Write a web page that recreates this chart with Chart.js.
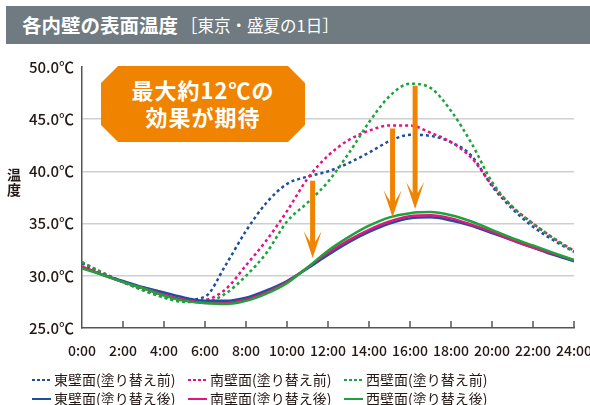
<!DOCTYPE html>
<html>
<head>
<meta charset="utf-8">
<script src="https://cdn.jsdelivr.net/npm/chart.js@4.4.1/dist/chart.umd.min.js"></script>
<style>
  body { margin: 0; background: #fff; font-family: "Noto Sans CJK JP", sans-serif; }
  #wrap { position: relative; width: 590px; height: 405px; overflow: hidden; }
  #chart { position: absolute; left: 0; top: 0; }
  #title { position: absolute; left: 6px; top: 6px; width: 584px; height: 38px; background: #6f7b81; color: #fff; }
  #title .main { position: absolute; left: 16px; top: 4px; font-size: 19.5px; font-weight: bold; }
  #title .sub { position: absolute; left: 175px; top: 7px; font-size: 16.5px; }
  #callout { position: absolute; left: 101px; top: 66px; width: 204px; height: 76px; background: #f08300; color: #fff;
    clip-path: polygon(17px 0, 187px 0, 204px 17px, 204px 59px, 187px 76px, 17px 76px, 0 59px, 0 17px);
    font-weight: bold; font-size: 22px; line-height: 27px; text-align: center; letter-spacing: 1px; padding-top: 10px; box-sizing: border-box; }
  #ytitle { position: absolute; left: 7px; top: 167px; font-size: 14px; font-weight: bold; line-height: 15px; color: #231815; width: 15px; }
  #legend { position: absolute; left: 0; top: 370px; width: 590px; }
  .item { position: absolute; font-size: 14px; color: #231815; white-space: nowrap; line-height: 18px; }
  .sw { display: inline-block; width: 19px; height: 2.5px; vertical-align: middle; margin-right: 3px; position: relative; top: -1px; }
</style>
</head>
<body>
<div id="wrap">
  <canvas id="chart" width="590" height="405"></canvas>
  <div id="title"><span class="main">各内壁の表面温度</span><span class="sub">［東京・盛夏の1日］</span></div>
  <div id="callout">最大約12℃の<br>効果が期待</div>
  <div id="ytitle">温<br>度</div>
  <div id="legend"></div>
</div>
<script>
var hours = [0,1,2,3,4,5,6,7,8,9,10,11,12,13,14,15,16,17,18,19,20,21,22,23,24];

var eastBefore  = [31.2,30.2,29.4,28.7,28.1,27.7,28.0,31.0,34.3,37.0,38.8,39.5,40.0,40.8,41.8,42.9,43.5,43.4,42.8,41.5,38.6,36.4,34.7,33.4,32.3];
var southBefore = [31.3,30.3,29.4,28.6,28.0,27.6,27.7,28.7,31.0,33.4,36.2,39.3,41.5,43.0,43.9,44.4,44.4,43.7,42.8,41.3,38.7,36.6,35.0,33.6,32.4];
var westBefore  = [31.3,30.3,29.4,28.6,27.9,27.5,27.5,28.3,30.0,32.2,35.2,37.0,39.0,41.7,44.7,47.2,48.4,48.0,45.8,42.7,39.0,36.6,35.0,33.6,32.3];
var eastAfter   = [30.8,30.1,29.5,28.9,28.4,27.9,27.6,27.6,27.9,28.6,29.5,30.7,32.0,33.2,34.2,35.0,35.5,35.6,35.3,34.8,34.1,33.4,32.7,32.0,31.4];
var southAfter  = [30.9,30.1,29.4,28.8,28.2,27.7,27.4,27.4,27.7,28.4,29.4,30.8,32.2,33.4,34.4,35.2,35.7,35.8,35.5,34.9,34.2,33.4,32.7,32.1,31.5];
var westAfter   = [30.7,30.1,29.4,28.8,28.1,27.6,27.4,27.3,27.6,28.3,29.3,30.8,32.4,33.7,34.8,35.6,36.0,36.1,35.8,35.2,34.4,33.6,32.9,32.2,31.5];

var seriesNames = ["東壁面(塗り替え前)","南壁面(塗り替え前)","西壁面(塗り替え前)","東壁面(塗り替え後)","南壁面(塗り替え後)","西壁面(塗り替え後)"];
var yTicks = [25,30,35,40,45,50];

// arrows: hour, from temp, to temp
var arrowHours = [11.25, 15.15, 16.25];
var arrowFrom  = [39.1, 44.1, 48.2];
var arrowTo    = [31.7, 35.6, 36.4];

var BLUE = "#1d4f9f", PINK = "#e4137f", GREEN = "#1ea23c", ORANGE = "#f08300";
var colors = [BLUE, PINK, GREEN, BLUE, PINK, GREEN];
var all = [eastBefore, southBefore, westBefore, eastAfter, southAfter, westAfter];

function pts(arr) {
  return hours.map(function(h, i){ return {x: h, y: arr[i]}; });
}

var datasets = [];
// solid first, dotted on top
for (var i = 5; i >= 0; i--) {
  datasets.push({
    label: seriesNames[i],
    data: pts(all[i]),
    borderColor: colors[i],
    borderWidth: 2.5,
    borderDash: i < 3 ? [3, 3] : [],
    pointRadius: 0,
    cubicInterpolationMode: 'monotone',
    fill: false
  });
}

var extras = {
  id: 'extras',
  afterDatasetsDraw: function(chart) {
    var ctx = chart.ctx, xs = chart.scales.x, ys = chart.scales.y;
    // inward ticks on x axis
    ctx.save();
    ctx.strokeStyle = "#555";
    ctx.lineWidth = 1.5;
    for (var h = 2; h <= 24; h += 2) {
      var px = xs.getPixelForValue(h);
      ctx.beginPath();
      ctx.moveTo(px, ys.bottom);
      ctx.lineTo(px, ys.bottom - 7);
      ctx.stroke();
    }
    // arrows
    ctx.fillStyle = ORANGE;
    for (var k = 0; k < arrowHours.length; k++) {
      var x = xs.getPixelForValue(arrowHours[k]);
      var yt = ys.getPixelForValue(arrowFrom[k]);
      var yb = ys.getPixelForValue(arrowTo[k]);
      ctx.beginPath();
      ctx.moveTo(x - 2.5, yt);
      ctx.lineTo(x + 2.5, yt);
      ctx.lineTo(x + 2.5, yb - 16);
      ctx.lineTo(x + 9, yb - 27);
      ctx.lineTo(x, yb);
      ctx.lineTo(x - 9, yb - 27);
      ctx.lineTo(x - 2.5, yb - 16);
      ctx.closePath();
      ctx.fill();
    }
    ctx.restore();
  }
};

new Chart(document.getElementById("chart"), {
  type: 'line',
  data: { datasets: datasets },
  options: {
    responsive: false,
    animation: false,
    layout: { padding: { top: 67, right: 16, left: 0, bottom: 0 } },
    plugins: { legend: { display: false }, tooltip: { enabled: false } },
    scales: {
      x: {
        type: 'linear', min: 0, max: 24,
        afterFit: function(s){ s.height = 77; s.paddingLeft = 0; s.paddingRight = 0; },
        grid: { display: false },
        border: { color: "#555", width: 1.5 },
        ticks: {
          stepSize: 2, padding: 6, color: "#231815", maxRotation: 0, autoSkip: false,
          font: { family: "Noto Sans CJK JP", size: 14, weight: 500 },
          callback: function(v){ return v + ":00"; }
        }
      },
      y: {
        min: 25, max: 50,
        afterFit: function(s){ s.width = 82; },
        afterBuildTicks: function(s){ s.ticks = yTicks.map(function(v){ return {value: v}; }); },
        grid: {
          drawTicks: false, lineWidth: 1.5,
          color: function(c){ return (c.tick && (c.tick.value === 25 || c.tick.value === 50)) ? 'rgba(0,0,0,0)' : '#cfcfcf'; }
        },
        border: { color: "#555", width: 1.5 },
        ticks: {
          padding: 8, color: "#231815",
          font: { family: "Noto Sans CJK JP", size: 15, weight: 500 },
          callback: function(v){ return v.toFixed(1) + "℃"; }
        }
      }
    }
  },
  plugins: [extras]
});

// legend
var leg = document.getElementById("legend");
var colX = [32, 188, 344];
for (var j = 0; j < 6; j++) {
  var d = document.createElement("div");
  d.className = "item";
  d.style.left = colX[j % 3] + "px";
  d.style.top = (j < 3 ? 0 : 19) + "px";
  var sw = document.createElement("span");
  sw.className = "sw";
  if (j < 3) {
    sw.style.background = "repeating-linear-gradient(90deg," + colors[j] + " 0 3px, transparent 3px 5px)";
  } else {
    sw.style.background = colors[j];
  }
  d.appendChild(sw);
  d.appendChild(document.createTextNode(seriesNames[j]));
  leg.appendChild(d);
}
</script>
</body>
</html>
